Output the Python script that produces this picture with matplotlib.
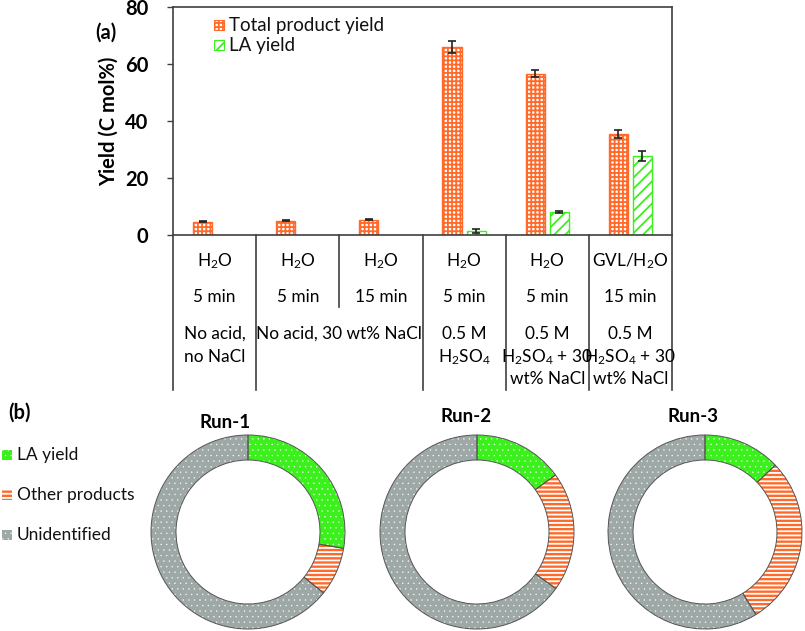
import matplotlib
matplotlib.use("Agg")
import matplotlib.pyplot as plt
from matplotlib.patches import Rectangle
import numpy as np

plt.rcParams['font.family'] = ['Lato', 'DejaVu Sans']
plt.rcParams['mathtext.fontset'] = 'custom'
plt.rcParams['mathtext.rm'] = 'Lato'
plt.rcParams['mathtext.it'] = 'Lato'
plt.rcParams['hatch.linewidth'] = 1.3

# ---------------- data ----------------
total_yield = [4.7, 5.1, 5.4, 66.0, 56.7, 35.5]
total_err = [0.2, 0.2, 0.2, 2.2, 1.2, 1.5]
la_yield = [0, 0, 0, 1.5, 8.1, 27.8]
la_err = [0, 0, 0, 0.7, 0.3, 1.9]
row1 = ["H$_2$O", "H$_2$O", "H$_2$O", "H$_2$O", "H$_2$O", "GVL/H$_2$O"]
row2 = ["5 min", "5 min", "15 min", "5 min", "5 min", "15 min"]
row3 = [["No acid,", "no NaCl"], None, None, ["0.5 M", "H$_2$SO$_4$"],
        ["0.5 M", "H$_2$SO$_4$ + 30", "wt% NaCl"], ["0.5 M", "H$_2$SO$_4$ + 30", "wt% NaCl"]]
merged_label = "No acid, 30 wt% NaCl"
yticks = [0, 20, 40, 60, 80]

runs = ["Run-1", "Run-2", "Run-3"]
pie_labels = ["LA yield", "Other products", "Unidentified"]
run_la = [27.7, 15.0, 12.9]
run_other = [8.1, 19.9, 28.3]
run_unid = [64.2, 65.1, 58.8]

ORANGE = '#FF6A2A'
GREEN = '#3CF01E'
GRAY = '#9EA8A6'
DARK = '#404040'

fig = plt.figure(figsize=(8.05, 6.31), dpi=100)
W, H = 805, 631

def fx(px):
    return px / W

def fy(py):
    return 1 - py / H

def set_hlw(patch, lw):
    if hasattr(patch, 'set_hatch_linewidth'):
        patch.set_hatch_linewidth(lw)

# ---------------- bar chart ----------------
ax = fig.add_axes([fx(173), fy(235.3), fx(672) - fx(173), fy(7.3) - fy(235.3)])
x = np.arange(len(total_yield))
bw = 0.23
off = 0.145
ax.bar(x - off, total_yield, bw, facecolor='white', edgecolor=ORANGE,
       hatch='++++', linewidth=1.0)
ax.errorbar(x - off, total_yield, yerr=total_err, fmt='none', ecolor='#222222',
            elinewidth=1.2, capsize=3, capthick=1.2)
la_idx = [i for i, v in enumerate(la_yield) if v > 0]
ax.bar(x[la_idx] + off, [la_yield[i] for i in la_idx], bw, facecolor='white',
       edgecolor=GREEN, hatch='///', linewidth=1.0)
ax.errorbar(x[la_idx] + off, [la_yield[i] for i in la_idx],
            yerr=[la_err[i] for i in la_idx], fmt='none', ecolor='#222222',
            elinewidth=1.2, capsize=3, capthick=1.2)
ax.set_xlim(-0.5, 5.5)
ax.set_ylim(0, 80)
ax.set_yticks(yticks)
ax.set_yticklabels([str(t) for t in yticks], fontsize=14.5, fontweight='bold')
ax.tick_params(axis='y', direction='out', length=4, width=1, color=DARK, pad=14)
ax.set_xticks([])
for s in ax.spines.values():
    s.set_color(DARK)
    s.set_linewidth(1.2)
ax.set_ylabel("Yield (C mol%)", fontsize=14.5, fontweight='bold', labelpad=4)

# legend (manual)
for i, (lab, fc, ec, hh) in enumerate([("Total product yield", 'white', ORANGE, '++++'),
                                        ("LA yield", 'white', GREEN, '///')]):
    yc = 25 + 20 * i
    fig.add_artist(Rectangle((fx(214), fy(yc + 5)), fx(10), fy(yc - 5) - fy(yc + 5),
                             transform=fig.transFigure, facecolor=fc, edgecolor=ec,
                             hatch=hh, linewidth=0.8))
    fig.text(fx(229), fy(yc), lab, fontsize=13.5, va='center', ha='left', color='#111111')

fig.text(fx(106), fy(33), "(a)", fontsize=14.5, fontweight='bold', ha='center', va='center')

# table under axes
tr = ax.get_xaxis_transform()
def ay(py):
    return (235.3 - py) / 228.0

bounds = [-0.5, 0.5, 1.5, 2.5, 3.5, 4.5, 5.5]
for b in bounds:
    yb = ay(307) if b == 1.5 else ay(390)
    ax.plot([b, b], [0, yb], transform=tr, color=DARK, lw=1.2, clip_on=False)

ts = 12.4
for i in range(6):
    ax.text(i, ay(261), row1[i], transform=tr, ha='center', va='center', fontsize=ts)
    ax.text(i, ay(297), row2[i], transform=tr, ha='center', va='center', fontsize=ts)
    if row3[i] is not None:
        for j, line in enumerate(row3[i]):
            ax.text(i, ay([334, 357, 379][j]), line, transform=tr, ha='center',
                    va='center', fontsize=ts)
ax.text(1.5, ay(334), merged_label, transform=tr, ha='center', va='center', fontsize=ts)

# ---------------- donut charts ----------------
fig.text(fx(19), fy(413), "(b)", fontsize=14.5, fontweight='bold', ha='center', va='center')

pie_colors = [GREEN, ORANGE, GRAY]
pie_hatch = ['...', '----', '...']
pie_hlw = [0.2, 1.3, 0.2]
for k, (lab, c, hh) in enumerate(zip(pie_labels, pie_colors, pie_hatch)):
    yc = 455 + 40 * k
    plt.rcParams['hatch.linewidth'] = pie_hlw[k]
    rp = Rectangle((fx(2), fy(yc + 5)), fx(10), fy(yc - 5) - fy(yc + 5),
                   transform=fig.transFigure, facecolor=c, edgecolor='white',
                   hatch=hh, linewidth=0)
    set_hlw(rp, pie_hlw[k])
    fig.add_artist(rp)
    fig.text(fx(17), fy(yc), lab, fontsize=12.5, va='center', ha='left', color='#111111')

centers = [(248, 532), (477, 532), (705, 532)]
title_pos = [(225, 423), (466, 417), (693, 417)]
vals = [run_la, run_other, run_unid]
for r in range(3):
    cx, cy = centers[r]
    pax = fig.add_axes([fx(cx - 100), fy(cy + 100), fx(200), fy(0) - fy(200)])
    pax.set_xlim(-1, 1)
    pax.set_ylim(-1, 1)
    pax.set_aspect('equal')
    pax.axis('off')
    data = [vals[0][r], vals[1][r], vals[2][r]]
    wedges, _ = pax.pie(data, radius=0.97, startangle=90, counterclock=False,
                        colors=pie_colors, wedgeprops=dict(width=0.25, edgecolor='white',
                                                           linewidth=0))
    for w, hh, lw in zip(wedges, pie_hatch, pie_hlw):
        w.set_hatch(hh)
        set_hlw(w, lw)
    pax.pie(data, radius=0.97, startangle=90, counterclock=False,
            colors=['none'] * 3,
            wedgeprops=dict(width=0.25, edgecolor='#555555', linewidth=0.7))
    pax.set_xlim(-1, 1)
    pax.set_ylim(-1, 1)
    tx, ty = title_pos[r]
    fig.text(fx(tx), fy(ty), runs[r], fontsize=13.5, fontweight='bold',
             ha='center', va='center')

fig.savefig("out.png", dpi=100)
